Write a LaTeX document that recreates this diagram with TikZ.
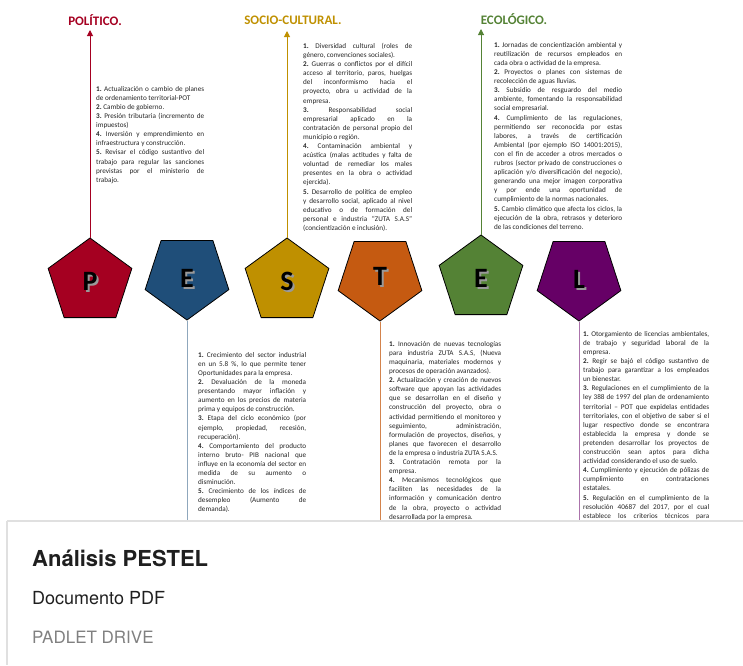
\documentclass[tikz,border=0pt]{standalone}
\usepackage{fontspec}
\setmainfont{Carlito}
\newfontfamily\padletfont{TeX Gyre Heros}
\usepackage{tikz}
\usetikzlibrary{shapes.geometric,arrows.meta}

% colores de cada factor
\definecolor{polcol}{HTML}{A50021}
\definecolor{ecocol}{HTML}{1F4E79}
\definecolor{soccol}{HTML}{BF9000}
\definecolor{teccol}{HTML}{C55A11}
\definecolor{ambcol}{HTML}{548235}
\definecolor{legcol}{HTML}{660066}

% letra con sombra gris
\newcommand{\conSombra}[1]{\makebox[0pt][l]{\hspace{2pt}\raisebox{-2pt}{\textcolor{black!40}{#1}}}#1}
% corte de linea justificado
\newcommand{\cl}{\linebreak}

\hyphenpenalty=10000
\tolerance=9999
\emergencystretch=3em
\hbadness=10000
\frenchspacing

\tikzset{
  penta/.style={regular polygon, regular polygon sides=5, minimum size=88pt,
    inner sep=0pt, draw=black, line width=0.8pt},
  abajo/.style={shape border rotate=180},
  letra/.style={font=\fontsize{28}{28}\selectfont\bfseries, inner sep=0pt},
  titulo/.style={font=\fontsize{13}{13}\selectfont\bfseries, inner sep=0pt},
  bloque/.style={anchor=north west, inner sep=0pt, text width=108pt, align=justify,
    font=\fontsize{7.2}{9.1}\selectfont, text=black!85},
  flecha/.style={line width=1pt, -{Triangle[width=6pt,length=6pt]}},
  linea/.style={line width=0.8pt},
  tarjeta/.style={anchor=base west, inner sep=0pt},
}

\begin{document}
\begin{tikzpicture}[x=1pt, y=-1pt]
  \useasboundingbox (0,0) rectangle (743,665);

  % pentagonos
  \node[penta, fill=polcol] (p) at (90,282) {};
  \node[penta, abajo, fill=ecocol] (e) at (187,276) {};
  \node[penta, fill=soccol] (s) at (287,282) {};
  \node[penta, abajo, fill=teccol] (t) at (380,277) {};
  \node[penta, fill=ambcol] (a) at (481,279) {};
  \node[penta, abajo, fill=legcol] (l) at (579,277) {};

  % letras
  \node[letra] (plt) at (p.center) {\conSombra{P}};
  \node[letra] (elt) at ([yshift=-3pt]e.center) {\conSombra{E}};
  \node[letra] (slt) at (s.center) {\conSombra{S}};
  \node[letra] (tlt) at (t.center) {\conSombra{T}};
  \node[letra] (alt) at (a.center) {\conSombra{E}};
  \node[letra] (llt) at ([yshift=-3pt]l.center) {\conSombra{L}};

  % titulos y flechas hacia arriba
  \node[titulo, text=polcol] (ptit) at (95,20) {POLÍTICO.};
  \node[titulo, text=soccol] (stit) at (293,20) {SOCIO-CULTURAL.};
  \node[titulo, text=ambcol] (atit) at (514,19) {ECOLÓGICO.};
  \coordinate (pf) at (90,30);
  \coordinate (sf) at (287,31);
  \coordinate (af) at (481,29);
  \draw[flecha, draw=polcol] (p.corner 1) -- (pf);
  \draw[flecha, draw=soccol] (s.corner 1) -- (sf);
  \draw[flecha, draw=ambcol] (a.corner 1) -- (af);

  % lineas hacia abajo
  \coordinate (ef) at (187,521);
  \coordinate (tf) at (380,521);
  \coordinate (lf) at (579,521);
  \draw[linea, ecocol!50] (e.corner 1) -- (ef);
  \draw[linea, teccol!75] (t.corner 1) -- (tf);
  \draw[linea, legcol!55] (l.corner 1) -- (lf);

  \begin{scope}
    \clip (0,0) rectangle (743,520);
    \node[bloque] (ptx) at (96,86) {%
      \textbf{1.} Actualización o cambio de planes\cl de ordenamiento territorial-POT\\
      \textbf{2.} Cambio de gobierno.\\
      \textbf{3.} Presión tributaria (incremento de\cl impuestos)\\
      \textbf{4.} Inversión y emprendimiento en\cl infraestructura y construcción.\\
      \textbf{5.} Revisar el código sustantivo del\cl trabajo para regular las sanciones\cl previstas por el ministerio de\cl trabajo.};
    \node[bloque, text width=109pt] (stx) at (303,43) {%
      \textbf{1.} Diversidad cultural (roles de\cl género, convenciones sociales).\\
      \textbf{2.} Guerras o conflictos por el difícil\cl acceso al territorio, paros, huelgas\cl del inconformismo hacia el\cl proyecto, obra u actividad de la\cl empresa.\\
      \textbf{3.} Responsabilidad social\cl empresarial aplicado en la\cl contratación de personal propio del\cl municipio o región.\\
      \textbf{4.} Contaminación ambiental y\cl acústica (malas actitudes y falta de\cl voluntad de remediar los males\cl presentes en la obra o actividad\cl ejercida).\\
      \textbf{5.} Desarrollo de política de empleo\cl y desarrollo social, aplicado al nivel\cl educativo o de formación del\cl personal e industria ``ZUTA S.A.S''\cl (concientización e inclusión).};
    \node[bloque, text width=128pt] (atx) at (494,42) {%
      \textbf{1.} Jornadas de concientización ambiental y\cl reutilización de recursos empleados en\cl cada obra o actividad de la empresa.\\
      \textbf{2.} Proyectos o planes con sistemas de\cl recolección de aguas lluvias.\\
      \textbf{3.} Subsidio de resguardo del medio\cl ambiente, fomentando la responsabilidad\cl social empresarial.\\
      \textbf{4.} Cumplimiento de las regulaciones,\cl permitiendo ser reconocida por estas\cl labores, a través de certificación\cl Ambiental (por ejemplo ISO 14001:2015),\cl con el fin de acceder a otros mercados o\cl rubros (sector privado de construcciones o\cl aplicación y/o diversificación del negocio),\cl generando una mejor imagen corporativa\cl y por ende una oportunidad de\cl cumplimiento de la normas nacionales.\\
      \textbf{5.} Cambio climático que afecta los ciclos, la\cl ejecución de la obra, retrasos y deterioro\cl de las condiciones del terreno.};
    \node[bloque] (etx) at (198,352) {%
      \textbf{1.} Crecimiento del sector industrial\cl en un 5.8 \%, lo que permite tener\cl Oportunidades para la empresa.\\
      \textbf{2.} Devaluación de la moneda\cl presentando mayor inflación y\cl aumento en los precios de materia\cl prima y equipos de construcción.\\
      \textbf{3.} Etapa del ciclo económico (por\cl ejemplo, propiedad, recesión,\cl recuperación).\\
      \textbf{4.} Comportamiento del producto\cl interno bruto- PIB nacional que\cl influye en la economía del sector en\cl medida de su aumento o\cl disminución.\\
      \textbf{5.} Crecimiento de los índices de\cl desempleo (Aumento de\cl demanda).};
    \node[bloque, text width=112pt] (ttx) at (389,341) {%
      \textbf{1.} Innovación de nuevas tecnologías\cl para industria ZUTA S.A.S, (Nueva\cl maquinaria, materiales modernos y\cl procesos de operación avanzados).\\
      \textbf{2.} Actualización y creación de nuevos\cl software que apoyan las actividades\cl que se desarrollan en el diseño y\cl construcción del proyecto, obra o\cl actividad permitiendo el monitoreo y\cl seguimiento, administración,\cl formulación de proyectos, diseños, y\cl planes que favorecen el desarrollo\cl de la empresa o industria ZUTA S.A.S.\\
      \textbf{3.} Contratación remota por la\cl empresa.\\
      \textbf{4.} Mecanismos tecnológicos que\cl faciliten las necesidades de la\cl información y comunicación dentro\cl de la obra, proyecto o actividad\cl desarrollada por la empresa.};
    \node[bloque, text width=126pt] (ltx) at (583,331) {%
      \textbf{1.} Otorgamiento de licencias ambientales,\cl de trabajo y seguridad laboral de la\cl empresa.\\
      \textbf{2.} Regir se bajó el código sustantivo de\cl trabajo para garantizar a los empleados\cl un bienestar.\\
      \textbf{3.} Regulaciones en el cumplimiento de la\cl ley 388 de 1997 del plan de ordenamiento\cl territorial – POT que expidelas entidades\cl territoriales, con el objetivo de saber si el\cl lugar respectivo donde se encontrara\cl establecida la empresa y donde se\cl pretenden desarrollar los proyectos de\cl construcción sean aptos para dicha\cl actividad considerando el uso de suelo.\\
      \textbf{4.} Cumplimiento y ejecución de pólizas de\cl cumplimiento en contrataciones\cl estatales.\\
      \textbf{5.} Regulación en el cumplimiento de la\cl resolución 40687 del 2017, por el cual\cl establece los criterios técnicos para\cl};
  \end{scope}

  % pie de la tarjeta
  \draw[black!12, line width=2pt] (7,521) -- (743,521);
  \draw[black!12, line width=1.5pt] (7,521) -- (7,665);
  \node[tarjeta, font=\padletfont\fontsize{22}{22}\selectfont\bfseries, text=black!88] (nom) at (32,566) {Análisis PESTEL};
  \node[tarjeta, font=\padletfont\fontsize{18}{18}\selectfont, text=black!88] (doc) at (32,604) {Documento PDF};
  \node[tarjeta, font=\padletfont\fontsize{17}{17}\selectfont, text=black!50] (drv) at (32,643) {PADLET DRIVE};

\end{tikzpicture}
\end{document}
